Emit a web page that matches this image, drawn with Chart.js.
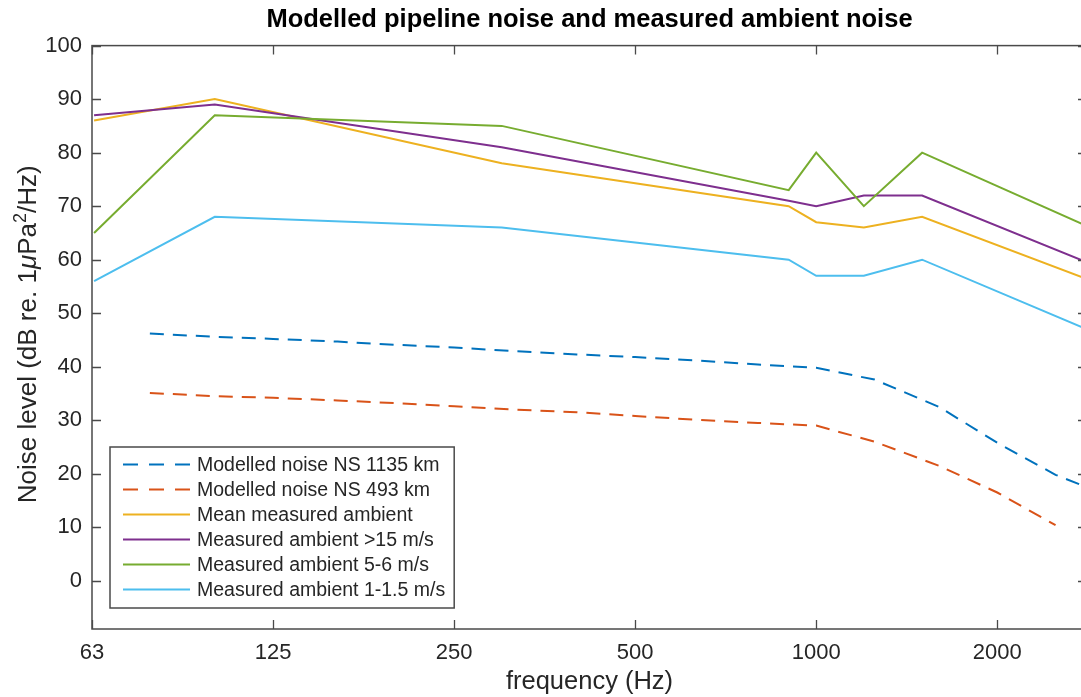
<!DOCTYPE html>
<html>
<head>
<meta charset="utf-8">
<title>Modelled pipeline noise and measured ambient noise</title>
<script src="https://cdn.jsdelivr.net/npm/chart.js@4.4.1/dist/chart.umd.min.js"></script>
<style>
  html, body { margin: 0; padding: 0; background: #fff; overflow: hidden; }
  canvas { display: block; }
</style>
</head>
<body>
<canvas id="noise" width="1088" height="697"></canvas>
<script>
// axis ticks
const freqTicks = [62.5, 125, 250, 500, 1000, 2000];
const freqTickLabels = ['63', '125', '250', '500', '1000', '2000'];
const levelTicks = [0, 10, 20, 30, 40, 50, 60, 70, 80, 90, 100];

// measured ambient noise (dB re 1 uPa^2/Hz)
const measFreq      = [63, 100, 300, 900, 1000, 1200, 1500, 2820];
const meanAmbient   = [86, 90, 78, 70, 67, 66, 68, 56.4];
const ambientOver15 = [87, 89, 81, 71, 70, 72, 72, 59.5];
const ambient5to6   = [65, 87, 85, 73, 80, 70, 80, 66.3];
const ambient1to15  = [56, 68, 66, 60, 57, 57, 60, 47.0];

// modelled pipeline noise
const modelFreq = [78, 100, 125, 160, 200, 250, 315, 400, 500, 630, 800, 1000, 1250, 1600, 2000, 2500, 2820];
const ns1135    = [46.2, 45.6, 45.2, 44.7, 44.1, 43.6, 42.9, 42.3, 41.8, 41.2, 40.4, 39.8, 37.6, 32.5, 25.8, 19.8, 17.5];
const ns493     = [35.1, 34.5, 34.2, 33.7, 33.2, 32.6, 32.0, 31.5, 30.8, 30.1, 29.5, 29.0, 26.0, 21.5, 16.5, 10.4, null];

const seriesNames = [
  'Modelled noise NS 1135 km',
  'Modelled noise NS 493 km',
  'Mean measured ambient',
  'Measured ambient >15 m/s',
  'Measured ambient 5-6 m/s',
  'Measured ambient 1-1.5 m/s'
];
const seriesColors = ['#0072BD', '#D95319', '#EDB120', '#7E2F8E', '#77AC30', '#4DBEEE'];

const FONT = '"Liberation Sans", Arial, Helvetica, sans-serif';
const AXIS_COLOR = '#262626';

function pts(xs, ys) {
  return xs.map((x, i) => ({ x: x, y: ys[i] })).filter(p => p.y !== null);
}

const seriesData = [
  pts(modelFreq, ns1135),
  pts(modelFreq, ns493),
  pts(measFreq, meanAmbient),
  pts(measFreq, ambientOver15),
  pts(measFreq, ambient5to6),
  pts(measFreq, ambient1to15)
];

const datasets = seriesData.map((d, i) => ({
  label: seriesNames[i],
  data: d,
  borderColor: seriesColors[i],
  backgroundColor: seriesColors[i],
  borderWidth: 2,
  borderDash: i < 2 ? [14, 9] : [],
  pointRadius: 0,
  tension: 0,
  fill: false,
  order: seriesData.length - i
}));

// box around the axes with inward ticks on all four sides
const axesBox = {
  id: 'axesBox',
  afterDatasetsDraw(chart) {
    const { ctx, chartArea: a } = chart;
    const xs = chart.scales.x, ys = chart.scales.y;
    const tl = 9;
    ctx.save();
    ctx.strokeStyle = '#4a4a4a';
    ctx.lineWidth = 1.5;
    ctx.strokeRect(a.left, a.top, a.right - a.left, a.bottom - a.top);
    ctx.beginPath();
    xs.ticks.forEach(t => {
      const px = Math.round(xs.getPixelForValue(t.value)) + 0.5;
      ctx.moveTo(px, a.bottom); ctx.lineTo(px, a.bottom - tl);
      ctx.moveTo(px, a.top);    ctx.lineTo(px, a.top + tl);
    });
    ys.ticks.forEach(t => {
      const py = Math.round(ys.getPixelForValue(t.value)) + 0.5;
      ctx.moveTo(a.left, py);  ctx.lineTo(a.left + tl, py);
      ctx.moveTo(a.right, py); ctx.lineTo(a.right - tl, py);
    });
    ctx.lineWidth = 1.3;
    ctx.stroke();
    ctx.restore();
  }
};

// legend box in the lower left corner of the axes
const legendBox = {
  id: 'legendBox',
  afterDraw(chart) {
    const { ctx, chartArea: a } = chart;
    const rowH = 25, left = a.left + 18, bottom = a.bottom - 21;
    const top = bottom - 161;
    ctx.save();
    ctx.font = '19.5px ' + FONT;
    let maxW = 0;
    chart.data.datasets.forEach(ds => { maxW = Math.max(maxW, ctx.measureText(ds.label).width); });
    const width = 87 + maxW + 9;
    ctx.fillStyle = '#fff';
    ctx.fillRect(left, top, width, bottom - top);
    ctx.strokeStyle = '#4a4a4a';
    ctx.lineWidth = 1.5;
    ctx.strokeRect(left, top, width, bottom - top);
    chart.data.datasets.forEach((ds, i) => {
      const y = top + 17.5 + i * rowH;
      ctx.beginPath();
      ctx.setLineDash(ds.borderDash.length ? [15, 11] : []);
      ctx.strokeStyle = ds.borderColor;
      ctx.lineWidth = 2;
      ctx.moveTo(left + 13, y);
      ctx.lineTo(left + 80, y);
      ctx.stroke();
      ctx.setLineDash([]);
      ctx.fillStyle = AXIS_COLOR;
      ctx.textBaseline = 'middle';
      ctx.textAlign = 'left';
      ctx.fillText(ds.label, left + 87, y + 1);
    });
    ctx.restore();
  }
};

// y axis label with italic mu and superscript 2
const yLabel = {
  id: 'yLabel',
  afterDraw(chart) {
    const { ctx, chartArea: a } = chart;
    const size = 26;
    const parts = [
      { t: 'Noise level (dB re. 1', f: size + 'px ' + FONT, dy: 0 },
      { t: '\u03bc', f: 'italic ' + size + 'px ' + FONT, dy: 0 },
      { t: 'Pa', f: size + 'px ' + FONT, dy: 0 },
      { t: '2', f: Math.round(size * 0.7) + 'px ' + FONT, dy: -10 },
      { t: '/Hz)', f: size + 'px ' + FONT, dy: 0 }
    ];
    ctx.save();
    let total = 0;
    parts.forEach(p => { ctx.font = p.f; p.w = ctx.measureText(p.t).width; total += p.w; });
    ctx.translate(36, (a.top + a.bottom) / 2 - 3);
    ctx.rotate(-Math.PI / 2);
    ctx.fillStyle = AXIS_COLOR;
    ctx.textBaseline = 'alphabetic';
    let x = -total / 2;
    parts.forEach(p => { ctx.font = p.f; ctx.fillText(p.t, x, p.dy); x += p.w; });
    ctx.restore();
  }
};

new Chart(document.getElementById('noise'), {
  type: 'line',
  data: { datasets: datasets },
  plugins: [axesBox, legendBox, yLabel],
  options: {
    responsive: false,
    animation: false,
    events: [],
    layout: { padding: { left: 0, right: 1, top: 0, bottom: 0 } },
    plugins: {
      legend: { display: false },
      tooltip: { enabled: false },
      title: {
        display: true,
        fullSize: false,
        text: 'Modelled pipeline noise and measured ambient noise',
        color: '#000',
        font: { family: FONT, size: 25.5, weight: 'bold' },
        padding: { top: 5, bottom: 10 }
      }
    },
    scales: {
      x: {
        type: 'logarithmic',
        min: 62.5,
        max: 2820,
        afterBuildTicks: s => { s.ticks = freqTicks.map(v => ({ value: v })); },
        afterFit: s => { s.height = 68; },
        ticks: {
          autoSkip: false,
          maxRotation: 0,
          padding: 11,
          color: AXIS_COLOR,
          font: { family: FONT, size: 22 },
          callback: (v, i) => freqTickLabels[i]
        },
        grid: { display: false, drawTicks: false },
        border: { display: false },
        title: {
          display: true,
          text: 'frequency (Hz)',
          color: AXIS_COLOR,
          font: { family: FONT, size: 25.5 },
          padding: { top: 0, bottom: 0 }
        }
      },
      y: {
        min: -9,
        max: 100,
        afterBuildTicks: s => { s.ticks = levelTicks.map(v => ({ value: v })); },
        afterFit: s => { s.width = 92; },
        ticks: {
          padding: 10,
          color: AXIS_COLOR,
          font: { family: FONT, size: 22 }
        },
        grid: { display: false, drawTicks: false },
        border: { display: false }
      }
    }
  }
});
</script>
</body>
</html>
